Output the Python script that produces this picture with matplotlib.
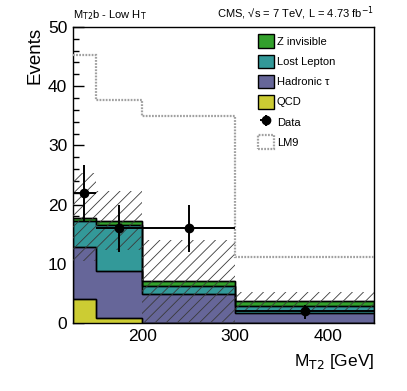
import numpy as np
import matplotlib
matplotlib.use("Agg")
import matplotlib.pyplot as plt
from matplotlib.patches import Patch
from matplotlib.ticker import MultipleLocator

plt.rcParams["font.family"] = ["Liberation Sans", "DejaVu Sans"]
plt.rcParams["hatch.linewidth"] = 0.6

# ───────────────────────── Data ─────────────────────────
bin_edges = [125, 150, 200, 300, 450]
qcd = [4.0, 0.85, 0.0, 0.0]
had_tau = [8.8, 8.0, 4.9, 1.7]
lost_lepton = [4.4, 7.75, 1.3, 1.2]
z_invisible = [0.5, 0.6, 0.95, 0.75]

unc_low = [10.5, 12.3, 0.0, 1.9]
unc_high = [25.3, 22.3, 14.0, 5.3]

lm9 = [45.2, 37.7, 35.0, 11.2]

data_x = [137.5, 175, 250, 375]
data_xerr = [12.5, 25, 50, 75]
data_y = [22, 16, 16, 2]
data_err_lo = [4.7, 4.0, 4.0, 1.4]
data_err_hi = [4.7, 4.0, 4.0, 1.1]

col_z = "#33a02c"
col_ll = "#339999"
col_tau = "#666699"
col_qcd = "#cccc33"

# ───────────────────────── Plot ─────────────────────────
fig = plt.figure(figsize=(4.07, 3.91), dpi=100)
ax = fig.add_axes([0.179, 0.174, 0.740, 0.757])

edges = np.array(bin_edges, dtype=float)
c_qcd = np.array(qcd)
c_tau = c_qcd + np.array(had_tau)
c_ll = c_tau + np.array(lost_lepton)
c_z = c_ll + np.array(z_invisible)

# stack, drawn from the top component down like THStack
for top, col in [(c_z, col_z), (c_ll, col_ll), (c_tau, col_tau), (c_qcd, col_qcd)]:
    ax.stairs(top, edges, baseline=0, fill=True, facecolor=col,
              edgecolor="black", linewidth=1.0, zorder=2)
    ax.stairs(top, edges, baseline=None, color="black", linewidth=1.0, zorder=2.1)

# uncertainty band
widths = np.diff(edges)
lo = np.array(unc_low)
hi = np.array(unc_high)
ax.bar(edges[:-1], hi - lo, width=widths, bottom=lo, align="edge",
       fill=False, hatch="///", edgecolor="#3a3a3a", linewidth=0, zorder=3)

# LM9
lm9_style = (0, (0.8, 0.6))
ax.stairs(lm9, edges, baseline=None, color="#a0a0a0", linewidth=1.6,
          linestyle=lm9_style, zorder=3)

# data
data_h = ax.errorbar(data_x, data_y, xerr=data_xerr, yerr=[data_err_lo, data_err_hi],
                     fmt="o", color="black", markersize=6, elinewidth=1.4,
                     capsize=0, zorder=5)

ax.set_xlim(125, 450)
ax.set_ylim(0, 50)
ax.xaxis.set_major_locator(MultipleLocator(100))
ax.xaxis.set_minor_locator(MultipleLocator(20))
ax.yaxis.set_major_locator(MultipleLocator(10))
ax.yaxis.set_minor_locator(MultipleLocator(2))
ax.tick_params(which="both", direction="in", labelsize=12.5, width=1)
ax.tick_params(which="major", length=8, pad=4)
ax.tick_params(which="minor", length=4)
for sp in ax.spines.values():
    sp.set_linewidth(1.0)

ax.set_xlabel(r"M$_{\mathrm{T2}}$ [GeV]", fontsize=12.5, loc="right", labelpad=6)
ax.set_ylabel("Events", fontsize=13.5, loc="top", labelpad=3)

fig.text(0.179, 0.945, r"M$_{\mathrm{T2}}$b - Low H$_{\mathrm{T}}$", fontsize=8,
         ha="left", va="bottom")
fig.text(0.919, 0.945, "CMS, √s = 7 TeV, L = 4.73 fb$^{\\mathrm{-1}}$",
         fontsize=8, ha="right", va="bottom")

handles = [
    Patch(facecolor=col_z, edgecolor="black", linewidth=1),
    Patch(facecolor=col_ll, edgecolor="black", linewidth=1),
    Patch(facecolor=col_tau, edgecolor="black", linewidth=1),
    Patch(facecolor=col_qcd, edgecolor="black", linewidth=1),
    data_h,
    Patch(facecolor="white", edgecolor="#a0a0a0", linewidth=1.6, linestyle=lm9_style),
]
labels = ["Z invisible", "Lost Lepton", "Hadronic τ", "QCD", "Data", "LM9"]
ax.legend(handles, labels, loc="upper left", bbox_to_anchor=(0.6, 0.99),
          frameon=False, fontsize=8, handlelength=1.4, handleheight=1.5,
          labelspacing=0.6, handletextpad=0.3, borderaxespad=0)

fig.savefig("out.png", dpi=100)
